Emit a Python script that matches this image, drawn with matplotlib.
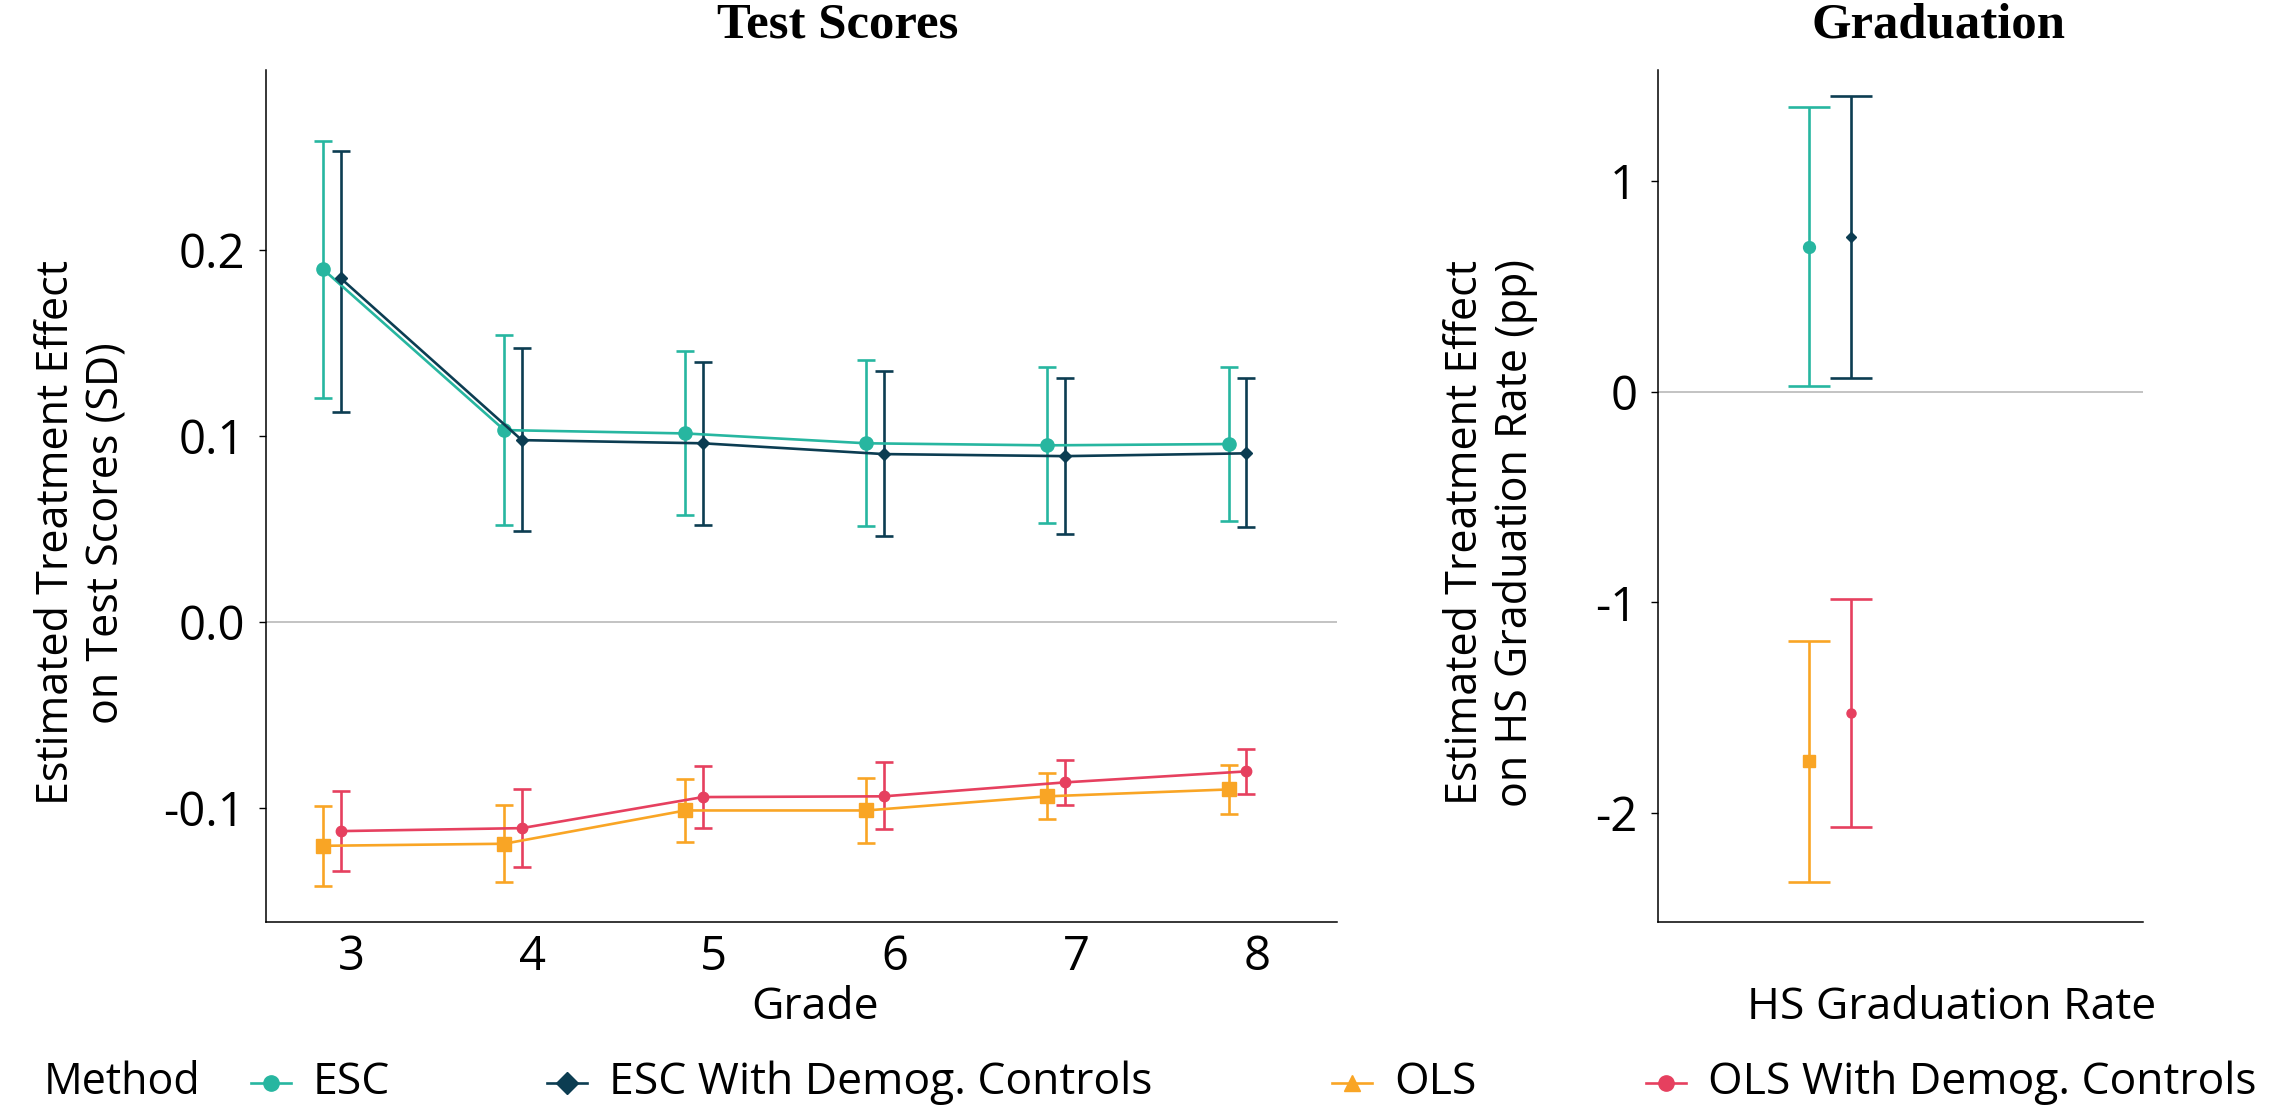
import matplotlib
matplotlib.use("Agg")
import matplotlib.pyplot as plt
from matplotlib.lines import Line2D
import numpy as np

plt.rcParams.update({
    'font.family': ['Open Sans', 'DejaVu Sans'],
    'axes.linewidth': 1.1,
})

# --- data ---
grades = [3, 4, 5, 6, 7, 8]

esc_est = [0.1896, 0.1032, 0.1014, 0.0961, 0.0950, 0.0957]
esc_lo = [0.1203, 0.0520, 0.0574, 0.0516, 0.0534, 0.0541]
esc_hi = [0.2588, 0.1545, 0.1459, 0.1409, 0.1369, 0.1370]

escd_est = [0.1848, 0.0978, 0.0961, 0.0903, 0.0892, 0.0907]
escd_lo = [0.1129, 0.0488, 0.0520, 0.0462, 0.0473, 0.0511]
escd_hi = [0.2531, 0.1471, 0.1396, 0.1348, 0.1310, 0.1310]

ols_est = [-0.1203, -0.1192, -0.1013, -0.1013, -0.0937, -0.0900]
ols_lo = [-0.1419, -0.1398, -0.1181, -0.1186, -0.1057, -0.1034]
ols_hi = [-0.0987, -0.0982, -0.0842, -0.0839, -0.0812, -0.0769]

olsd_est = [-0.1124, -0.1108, -0.0941, -0.0937, -0.0862, -0.0803]
olsd_lo = [-0.1339, -0.1315, -0.1106, -0.1115, -0.0986, -0.0927]
olsd_hi = [-0.0907, -0.0900, -0.0776, -0.0754, -0.0742, -0.0681]

methods = ["ESC", "ESC With Demog. Controls", "OLS", "OLS With Demog. Controls"]
grad_est = [0.687, 0.733, -1.755, -1.526]
grad_lo = [0.0245, 0.065, -2.327, -2.065]
grad_hi = [1.351, 1.403, -1.185, -0.986]

# --- style ---
COLORS = {"ESC": "#27b6a0", "ESC With Demog. Controls": "#0c3d52",
          "OLS": "#f9a525", "OLS With Demog. Controls": "#e6405f"}
MARKERS = {"ESC": "o", "ESC With Demog. Controls": "D",
           "OLS": "s", "OLS With Demog. Controls": "o"}
MSIZE = {"ESC": 9.5, "ESC With Demog. Controls": 6.5,
         "OLS": 9.5, "OLS With Demog. Controls": 7.5}
LEG_MARKERS = {"ESC": "o", "ESC With Demog. Controls": "D",
               "OLS": "^", "OLS With Demog. Controls": "o"}
# horizontal dodge (in x units) for the "without" / "with controls" variants
DODGE_LEFT = {"ESC": -0.157, "ESC With Demog. Controls": -0.06,
              "OLS": -0.157, "OLS With Demog. Controls": -0.06}
DODGE_RIGHT = {"ESC": -0.226, "ESC With Demog. Controls": -0.1225,
               "OLS": -0.226, "OLS With Demog. Controls": -0.1225}

TICK_FS = 34
LABEL_FS = 31
LEGEND_FS = 32
TITLE_FS = 36.5
LW = 1.9

W, H = 2292, 1107
fig = plt.figure(figsize=(W / 100, H / 100), dpi=100)


def px_box(x0, y0, x1, y1):
    return [x0 / W, 1 - y1 / H, (x1 - x0) / W, (y1 - y0) / H]


ax1 = fig.add_axes(px_box(266, 70, 1337, 921.5))
ax2 = fig.add_axes(px_box(1658, 70, 2143, 921.5))

series = {
    "ESC": (esc_est, esc_lo, esc_hi),
    "ESC With Demog. Controls": (escd_est, escd_lo, escd_hi),
    "OLS": (ols_est, ols_lo, ols_hi),
    "OLS With Demog. Controls": (olsd_est, olsd_lo, olsd_hi),
}

for ax in (ax1, ax2):
    ax.axhline(0, color="#b3b3b3", lw=1.1, zorder=1)

for name, (est, lo, hi) in series.items():
    est = np.array(est)
    x = np.array(grades) + DODGE_LEFT[name]
    yerr = [est - np.array(lo), np.array(hi) - est]
    ax1.errorbar(x, est, yerr=yerr, color=COLORS[name], marker=MARKERS[name],
                 ms=MSIZE[name], lw=LW, elinewidth=LW, capsize=6.3,
                 capthick=LW, zorder=3)

for i, name in enumerate(methods):
    est = grad_est[i]
    yerr = [[est - grad_lo[i]], [grad_hi[i] - est]]
    ax2.errorbar([1 + DODGE_RIGHT[name]], [est], yerr=yerr, color=COLORS[name],
                 marker=MARKERS[name], ms=MSIZE[name] - 1, lw=LW,
                 elinewidth=LW, capsize=15, capthick=LW, zorder=3)

ax1.set_xlim(2.527, 8.442)
ax1.set_ylim(-0.161, 0.2968)
ax1.set_xticks(grades)
ax1.set_yticks([-0.1, 0.0, 0.1, 0.2])
ax1.set_yticklabels(["-0.1", "0.0", "0.1", "0.2"])

ax2.set_xlim(0.4, 1.6)
ax2.set_ylim(-2.515, 1.526)
ax2.set_xticks([])
ax2.set_yticks([-2, -1, 0, 1])
ax2.set_yticklabels(["-2", "-1", "0", "1"])

for ax in (ax1, ax2):
    for s in ("top", "right"):
        ax.spines[s].set_visible(False)
    ax.tick_params(axis="y", length=5, width=1, labelsize=TICK_FS, pad=10)
    ax.tick_params(axis="x", length=0, labelsize=TICK_FS, pad=9)

# titles and axis labels
fig.text(838 / W, 1 - 26 / H, "Test Scores", ha="center", va="center",
         family="Liberation Serif", weight="bold", fontsize=TITLE_FS)
fig.text(1938 / W, 1 - 26 / H, "Graduation", ha="center", va="center",
         family="Liberation Serif", weight="bold", fontsize=TITLE_FS)
fig.text(82 / W, 1 - 533 / H, "Estimated Treatment Effect\non Test Scores (SD)",
         rotation=90, ha="center", va="center", fontsize=LABEL_FS,
         linespacing=1.15)
fig.text(1491 / W, 1 - 533 / H,
         "Estimated Treatment Effect\non HS Graduation Rate (pp)",
         rotation=90, ha="center", va="center", fontsize=LABEL_FS,
         linespacing=1.15)
fig.text(815 / W, 1 - 1008 / H, "Grade", ha="center", va="center",
         fontsize=LABEL_FS + 1)
fig.text(1952 / W, 1 - 1008 / H, "HS Graduation Rate", ha="center",
         va="center", fontsize=LABEL_FS + 1)

# legend along the bottom
leg_y = 1 - 1083 / H
fig.text(44 / W, leg_y, "Method", ha="left", va="center", fontsize=LEGEND_FS - 1)
leg_x = [271, 567, 1352, 1666]
for name, mx in zip(methods, leg_x):
    fig.add_artist(Line2D([(mx - 20) / W, (mx + 20) / W], [leg_y, leg_y],
                          transform=fig.transFigure, color=COLORS[name], lw=LW))
    fig.add_artist(Line2D([mx / W], [leg_y], transform=fig.transFigure,
                          marker=LEG_MARKERS[name], ms=11, color=COLORS[name],
                          lw=0))
    fig.text((mx + 42) / W, leg_y, name, ha="left", va="center",
             fontsize=LEGEND_FS)

fig.savefig("out.png", dpi=100)
